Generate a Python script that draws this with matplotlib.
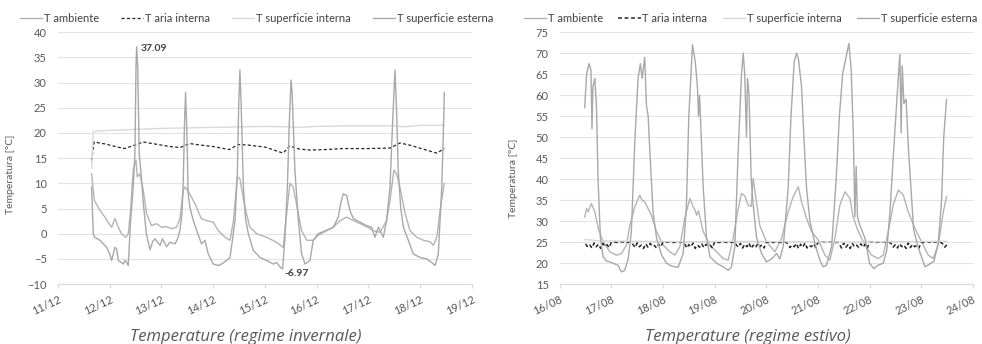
import matplotlib
matplotlib.use("Agg")
import matplotlib.pyplot as plt

plt.rcParams['font.family'] = ['Lato', 'DejaVu Sans']

# ---- dati: ore dall'inizio del primo giorno in asse, temperatura [°C]
inv_ticks = ['11/12', '12/12', '13/12', '14/12', '15/12', '16/12', '17/12', '18/12', '19/12']
est_ticks = ['16/08', '17/08', '18/08', '19/08', '20/08', '21/08', '22/08', '23/08', '24/08']

# regime invernale
inv_amb = [(15.6, 11.9), (16.9, 6.6), (19.5, 4.6), (21.8, 3.3), (23.2, 2.3), (24.9, 1.3), (26.4, 3.0),
           (28.0, 1.3), (29.5, 0.0), (31.5, -0.7), (32.6, 0.0), (33.7, 4.6), (34.9, 12.6), (36.2, 14.6),
           (36.8, 11.3), (38.0, 11.9), (39.6, 8.6), (41.1, 4.0), (43.4, 1.6), (45.7, 2.0), (48.0, 1.3),
           (50.4, 1.4), (52.7, 1.0), (55.0, 1.3), (56.6, 3.0), (58.1, 8.6), (59.0, 9.3), (61.0, 8.0),
           (63.5, 6.0), (66.5, 3.0), (69.0, 2.6), (72.0, 2.3), (74.4, 0.6), (77.5, -0.7), (79.8, -1.3),
           (81.4, 2.6), (83.2, 11.3), (84.4, 10.9), (86.7, 5.3), (89.0, 1.3), (92.2, 0.0), (96.8, -0.7),
           (101.4, -1.7), (104.5, -2.7), (105.7, 2.6), (107.6, 10.0), (109.1, 9.3), (111.5, 4.0),
           (113.0, 0.6), (115.4, -1.3), (118.4, -1.3), (120.7, -0.3), (124.6, 0.6), (127.7, 1.3),
           (130.8, 2.6), (133.9, 3.3), (137.0, 2.6), (140.1, 2.0), (143.2, 1.4), (146.3, 0.6),
           (149.4, 0.3), (152.4, 2.6), (154.0, 6.6), (155.8, 12.6), (157.0, 11.9), (158.6, 9.3),
           (161.0, 4.0), (163.3, 0.6), (166.4, -0.7), (169.5, -1.3), (172.6, -1.6), (174.1, -2.3),
           (175.7, -0.7), (177.2, 4.6), (179.2, 10.0)]
inv_aria = [(15.6, 14.5), (16.8, 18.2), (22.0, 17.8), (27.5, 17.2), (31.0, 16.9), (35.0, 17.5),
            (39.6, 18.2), (45.0, 17.8), (52.0, 17.3), (56.7, 17.1), (61.0, 17.9), (66.0, 17.6),
            (72.0, 17.3), (79.5, 16.7), (83.5, 17.7), (88.0, 17.6), (96.0, 17.2), (104.4, 16.0),
            (107.5, 17.4), (112.0, 16.8), (117.0, 16.6), (124.0, 16.7), (132.0, 16.9), (144.0, 16.9),
            (154.0, 17.0), (158.6, 18.0), (163.0, 17.6), (170.0, 16.7), (175.7, 16.0), (179.2, 16.9)]
inv_sint = [(15.6, 13.0), (16.4, 20.3), (24.0, 20.5), (36.0, 20.7), (48.0, 20.9), (60.0, 21.0),
            (72.0, 21.1), (84.0, 21.2), (96.0, 21.3), (108.0, 21.2), (112.0, 21.1), (120.0, 21.3),
            (132.0, 21.4), (144.0, 21.4), (156.0, 21.4), (160.0, 21.2), (168.0, 21.5), (179.2, 21.5)]
inv_sest = [(15.6, 9.3), (16.4, 0.0), (17.0, -0.7), (19.5, -1.3), (21.0, -2.0), (22.6, -2.7), (24.0, -4.0),
            (24.9, -5.3), (26.4, -2.7), (27.2, -3.0), (28.0, -5.3), (30.3, -6.0), (31.0, -5.3), (31.8, -5.6),
            (32.6, -6.3), (33.7, 2.6), (34.9, 9.3), (35.7, 15.9), (36.2, 33.0), (36.5, 37.09), (37.0, 33.0),
            (37.7, 15.9), (38.8, 10.6), (39.6, 6.0), (41.0, 0.0), (42.7, -3.2), (44.0, -1.5), (45.0, -1.0),
            (47.3, -2.3), (48.5, -1.0), (50.4, -2.6), (51.9, -1.7), (54.3, -2.0), (55.5, -1.0), (56.6, 0.7),
            (57.5, 4.0), (58.1, 10.0), (58.7, 22.0), (59.2, 28.0), (59.8, 20.0), (60.4, 8.0), (61.2, 5.3),
            (62.5, 3.0), (64.3, 0.7), (66.6, -2.0), (68.2, -1.3), (69.7, -4.0), (72.0, -6.0), (74.4, -6.3),
            (75.9, -6.0), (78.2, -5.3), (79.8, -4.7), (81.0, -1.0), (82.1, 2.6), (83.2, 12.0), (83.8, 25.0),
            (84.4, 32.5), (85.0, 25.0), (86.0, 9.3), (87.0, 3.0), (88.3, 0.0), (90.6, -3.3), (93.7, -4.7),
            (96.8, -5.3), (99.9, -6.0), (101.5, -5.7), (103.0, -6.6), (104.2, -6.97), (105.3, -0.7),
            (106.4, 9.3), (107.3, 22.0), (108.1, 30.5), (108.6, 28.0), (109.9, 12.6), (111.5, 2.6),
            (113.0, -4.0), (114.6, -6.0), (116.9, -5.3), (118.4, -1.3), (120.7, 0.0), (124.6, 0.7),
            (127.7, 1.3), (130.0, 3.3), (131.1, 6.0), (132.3, 7.9), (133.9, 7.6), (135.4, 4.6), (137.0, 3.0),
            (140.1, 2.3), (143.2, 1.6), (145.5, 1.3), (147.0, -0.7), (148.6, 1.3), (150.9, -0.7),
            (152.4, 2.6), (154.0, 9.3), (155.2, 22.0), (156.3, 32.5), (157.0, 25.0), (157.8, 12.6),
            (159.0, 5.0), (160.2, 1.3), (162.5, -1.3), (164.8, -4.0), (167.9, -4.7), (171.0, -5.0),
            (173.3, -5.7), (174.9, -6.3), (176.4, -4.0), (177.2, 2.6), (178.0, 9.3), (178.6, 18.0),
            (179.2, 28.0)]

# regime estivo
est_amb = [(11.6, 31.0), (12.5, 33.0), (13.2, 32.2), (14.7, 34.2), (16.3, 32.2), (18.0, 28.0), (20.2, 25.1),
           (23.3, 22.7), (26.4, 21.9), (28.7, 22.3), (31.0, 24.3), (32.6, 29.0), (34.9, 33.4), (37.2, 36.2),
           (38.3, 35.0), (39.5, 34.6), (42.6, 31.4), (45.0, 27.5), (48.1, 24.3), (51.2, 22.7), (53.5, 21.9),
           (55.8, 23.9), (58.1, 30.7), (60.5, 35.4), (62.0, 33.4), (63.0, 32.5), (63.6, 31.4), (64.5, 32.5),
           (66.7, 27.5), (69.8, 24.3), (72.9, 22.7), (76.0, 21.1), (78.3, 20.7), (80.6, 25.9), (83.0, 33.0),
           (84.5, 36.6), (86.0, 36.0), (87.6, 33.8), (89.0, 33.5), (89.9, 40.2), (90.5, 38.0), (91.2, 35.4),
           (93.0, 29.0), (96.1, 25.1), (100.0, 22.7), (103.1, 25.9), (106.2, 32.2), (108.5, 35.8),
           (110.9, 38.2), (112.4, 34.6), (114.7, 30.7), (117.1, 27.5), (120.2, 25.5), (123.3, 21.9),
           (125.6, 20.7), (127.9, 25.9), (130.2, 33.8), (132.6, 37.0), (134.9, 35.4), (136.4, 31.0),
           (138.8, 27.5), (141.9, 24.3), (145.0, 21.9), (148.0, 21.1), (150.4, 21.9), (152.7, 27.5),
           (155.0, 33.8), (157.4, 37.4), (159.7, 36.2), (162.0, 32.2), (165.1, 28.3), (168.2, 25.1),
           (171.3, 21.9), (173.6, 21.1), (176.0, 24.3), (178.3, 32.2), (179.8, 35.8)]
est_sint = [(11.6, 25.6), (20.0, 25.3), (36.0, 25.2), (60.0, 25.1), (84.0, 25.2), (108.0, 25.1),
            (132.0, 25.0), (156.0, 25.1), (179.8, 25.2)]
est_sest = [(11.6, 57.0), (12.5, 65.0), (13.6, 67.5), (14.5, 66.0), (15.0, 52.0), (15.4, 62.0), (16.3, 64.0),
            (17.1, 57.0), (17.8, 40.0), (18.9, 26.0), (20.2, 21.5), (21.7, 20.5), (23.3, 20.3), (25.6, 19.8),
            (27.1, 19.5), (28.7, 17.9), (30.2, 18.3), (31.8, 21.0), (33.3, 27.5), (34.9, 49.0), (36.4, 64.0),
            (37.5, 67.5), (38.3, 64.0), (39.5, 69.0), (40.3, 57.6), (41.1, 55.0), (41.9, 46.5), (43.4, 32.0),
            (45.0, 26.0), (47.3, 22.0), (49.6, 20.0), (52.0, 19.3), (55.0, 19.0), (57.4, 22.3), (58.9, 34.0),
            (60.0, 55.0), (61.7, 72.0), (63.0, 68.0), (64.0, 62.0), (64.5, 55.0), (65.0, 60.0), (66.7, 38.0),
            (68.2, 26.3), (69.8, 21.5), (72.9, 20.0), (76.0, 19.1), (78.3, 18.3), (79.8, 19.1), (81.4, 24.0),
            (82.9, 46.0), (84.5, 65.0), (85.3, 70.0), (86.0, 65.0), (86.8, 50.0), (87.3, 64.0), (88.0, 60.0),
            (89.0, 40.0), (89.9, 34.0), (91.5, 26.0), (93.8, 22.3), (96.1, 20.3), (98.5, 21.0), (100.8, 22.3),
            (102.3, 21.0), (103.9, 24.0), (106.2, 38.0), (107.5, 55.0), (109.0, 68.0), (110.1, 70.0),
            (111.0, 68.5), (112.4, 62.0), (113.5, 50.0), (114.7, 38.0), (116.3, 30.0), (118.6, 24.7),
            (120.9, 20.7), (122.5, 19.1), (124.0, 19.5), (126.4, 24.0), (128.5, 40.0), (130.0, 55.0),
            (131.5, 65.0), (134.4, 72.3), (135.5, 66.0), (136.5, 50.0), (137.2, 31.0), (137.8, 43.0),
            (138.4, 31.0), (139.5, 29.0), (141.9, 25.9), (144.0, 20.0), (146.0, 18.7), (148.0, 19.5),
            (150.4, 20.0), (152.0, 23.0), (153.5, 32.0), (155.0, 45.0), (156.6, 58.0), (158.1, 69.7),
            (158.7, 51.0), (159.2, 67.0), (160.0, 58.0), (161.0, 59.0), (162.0, 48.0), (163.0, 40.0),
            (164.5, 28.0), (166.5, 24.0), (169.8, 19.1), (172.0, 19.8), (174.0, 20.5), (176.0, 25.0),
            (177.5, 35.0), (178.5, 50.0), (179.8, 59.0)]
# aria interna estiva, valori orari dalle 12 del 16/08 alle 12 del 23/08
est_aria_start = 12
est_aria = [24.6, 23.8, 24.3, 23.6, 24.8, 23.9, 24.5, 23.5, 24.7, 24.0, 24.4, 23.7,
            25.0, 25.1, 25.0, 24.9, 25.0, 25.1, 25.0, 24.9, 25.0, 25.1,
            24.5, 23.7, 24.8, 23.9, 24.3, 23.5, 24.6, 23.8, 24.7, 24.0, 24.2, 23.6, 24.5, 23.9,
            25.0, 24.9, 25.0, 25.1, 25.0, 24.9, 25.0, 25.0, 25.1, 25.0,
            24.7, 23.6, 24.4, 23.9, 24.8, 23.5, 24.3, 23.8, 24.6, 23.7, 24.5, 24.0, 24.2, 23.6,
            25.1, 25.0, 24.9, 25.0, 25.1, 25.0, 24.9, 25.0, 25.0, 25.1,
            24.4, 23.8, 24.7, 23.6, 24.5, 23.9, 24.8, 23.5, 24.3, 23.7, 24.6, 23.9, 24.4, 23.6,
            25.0, 25.0, 25.1, 24.9, 25.0, 25.1, 25.0, 24.9, 25.0, 25.0,
            24.6, 23.7, 24.3, 23.9, 24.7, 23.5, 24.5, 23.8, 24.8, 23.6, 24.2, 23.9, 24.6, 23.7,
            24.9, 25.0, 25.1, 25.0, 24.9, 25.0, 25.1, 25.0, 24.9, 25.0,
            24.5, 23.6, 24.8, 23.8, 24.4, 23.5, 24.7, 23.9, 24.3, 23.7, 24.6, 23.8, 24.5, 23.6,
            25.0, 25.1, 25.0, 24.9, 25.0, 25.0, 25.1, 25.0, 24.9, 25.0,
            24.7, 23.8, 24.4, 23.6, 24.6, 23.9, 24.3, 23.5, 24.8, 23.7, 24.5, 23.9, 24.2, 23.6,
            25.0, 24.9, 25.0, 25.1, 25.0, 24.9, 25.0, 25.1, 25.0, 25.0,
            24.6, 23.8, 24.4]

c_amb = '#b4b4b4'
c_aria = '#262626'
c_sint = '#d9d9d9'
c_sest = '#a8a8a8'
c_txt = '#595959'


def hd(series):
    return [p[0] / 24.0 for p in series], [p[1] for p in series]


def style(ax, ylo, yhi, ticks):
    ax.set_xlim(0, 8)
    ax.set_ylim(ylo, yhi)
    ax.set_yticks(range(ylo, yhi + 1, 5))
    ax.set_xticks(range(9))
    ax.set_xticklabels(ticks, rotation=25, ha='right', rotation_mode='anchor')
    ax.grid(axis='y', color='#e3e3e3', lw=0.8)
    ax.set_axisbelow(True)
    for s in ['top', 'right', 'left']:
        ax.spines[s].set_visible(False)
    ax.spines['bottom'].set_color('#d9d9d9')
    ax.tick_params(axis='y', length=0, labelsize=8, colors=c_txt, pad=8)
    ax.tick_params(axis='x', length=3, color='#d9d9d9', labelsize=8, colors=c_txt, pad=4)
    ax.set_ylabel('Temperatura [°C]', fontsize=7.5, color=c_txt)


fig = plt.figure(figsize=(9.82, 3.44), dpi=100)
ax1 = fig.add_axes([0.059, 0.174, 0.4216, 0.7326])
ax2 = fig.add_axes([0.570, 0.174, 0.4206, 0.7326])

# invernale
x, y = hd(inv_amb)
ax1.plot(x, y, color=c_amb, lw=1.0, label='T ambiente')
x, y = hd(inv_aria)
ax1.plot(x, y, color=c_aria, lw=0.9, ls=(0, (2.5, 1.8)), label='T aria interna')
x, y = hd(inv_sint)
ax1.plot(x, y, color=c_sint, lw=1.0, label='T superficie interna')
x, y = hd(inv_sest)
ax1.plot(x, y, color=c_sest, lw=1.0, label='T superficie esterna')
style(ax1, -10, 40, inv_ticks)
ax1.annotate('37.09', (36.5 / 24, 37.09), xytext=(3, -1), textcoords='offset points', va='center',
             fontsize=7.5, fontweight='bold', color='#404040')
ax1.annotate('-6.97', (104.2 / 24, -6.97), xytext=(1, -3), textcoords='offset points', va='center',
             fontsize=7.5, fontweight='bold', color='#404040')
ax1.yaxis.set_label_coords(-0.104, 0.437)

# estivo
x, y = hd(est_amb)
ax2.plot(x, y, color=c_amb, lw=1.0, label='T ambiente')
xa = [(est_aria_start + i) / 24.0 for i in range(len(est_aria))]
ax2.plot(xa, est_aria, color=c_aria, lw=1.1, ls=(0, (2.5, 1.8)), label='T aria interna')
x, y = hd(est_sint)
ax2.plot(x, y, color=c_sint, lw=1.0, label='T superficie interna')
x, y = hd(est_sest)
ax2.plot(x, y, color=c_sest, lw=1.0, label='T superficie esterna')
style(ax2, 15, 75, est_ticks)
ax2.yaxis.set_label_coords(-0.102, 0.42)

for ax, cx, cs in [(ax1, 0.48, 2.0), (ax2, 0.462, 1.4)]:
    ax.legend(loc='center', bbox_to_anchor=(cx, 1.056), ncol=4, frameon=False, fontsize=8,
              handlelength=2.0, handletextpad=0.15, columnspacing=cs, borderpad=0, labelcolor='#404040')

fig.text(246 / 982, 0.02, 'Temperature (regime invernale)', ha='center', va='center',
         fontsize=12, style='italic', color=c_txt, family='Open Sans')
fig.text(748 / 982, 0.02, 'Temperature (regime estivo)', ha='center', va='center',
         fontsize=12, style='italic', color=c_txt, family='Open Sans')

fig.savefig('out.png', dpi=100)
